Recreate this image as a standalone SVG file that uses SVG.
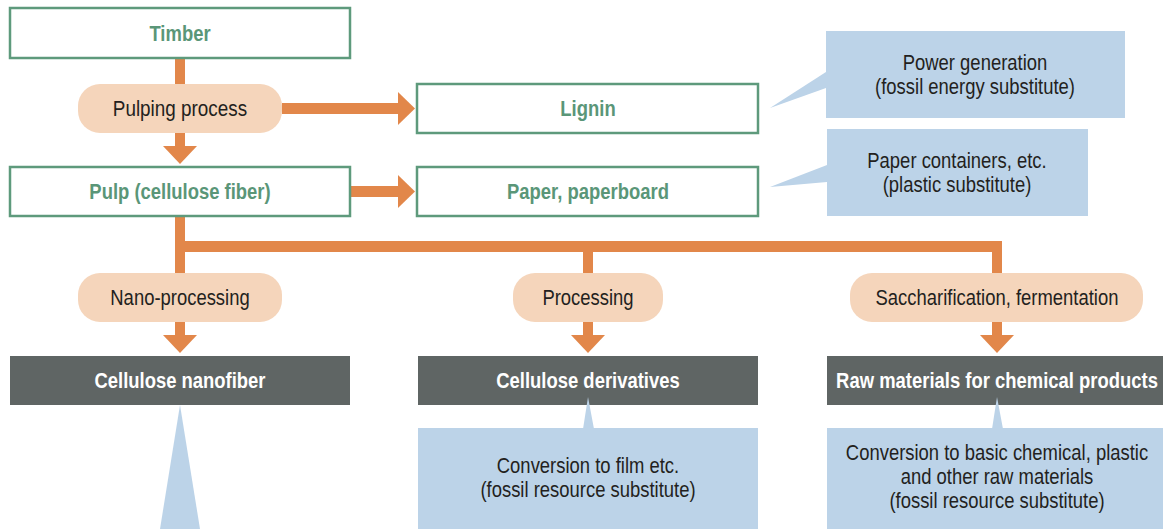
<svg xmlns="http://www.w3.org/2000/svg" width="1163" height="529" viewBox="0 0 1163 529">
<style>
text{font-family:"Liberation Sans",Arial,sans-serif;font-size:22.5px;text-anchor:middle}
.gbox{fill:#fff;stroke:#5e9a7c;stroke-width:2.5}
.gt{fill:#5a9678;font-weight:bold}
.pill{fill:#f5d5bb}
.dt{fill:#231f20}
.dark{fill:#5f6564}
.wt{fill:#fff;font-weight:bold}
.blue{fill:#bcd3e8}
.or{fill:#e2874a}
</style>
<g id="connectors">
<rect class="or" x="175" y="58" width="10" height="26"/>
<rect class="or" x="175" y="133" width="10" height="14"/>
<polygon class="or" points="163,146 197,146 180,164"/>
<rect class="or" x="282" y="103" width="117" height="11"/>
<polygon class="or" points="398,92 415,108.5 398,125"/>
<rect class="or" x="350" y="186" width="49" height="11"/>
<polygon class="or" points="398,175 415,191.5 398,208"/>
<rect class="or" x="175" y="216" width="10" height="57"/>
<rect class="or" x="175" y="241" width="827" height="11"/>
<rect class="or" x="583" y="241" width="10" height="32"/>
<rect class="or" x="992" y="241" width="10" height="32"/>
<rect class="or" x="175" y="322" width="10" height="14"/>
<polygon class="or" points="163,335 197,335 180,353"/>
<rect class="or" x="583" y="322" width="10" height="14"/>
<polygon class="or" points="571,335 605,335 588,353"/>
<rect class="or" x="992" y="322" width="10" height="14"/>
<polygon class="or" points="980,335 1014,335 997,353"/>
</g>
<g id="timber"><rect class="gbox" x="10" y="8" width="340" height="50"/><text class="gt" transform="translate(180,41) scale(0.82,1)">Timber</text></g>
<g id="pulping"><rect class="pill" x="78" y="84" width="204" height="49" rx="22"/><text class="dt" transform="translate(180,116) scale(0.84,1)">Pulping process</text></g>
<g id="lignin"><rect class="gbox" x="417" y="84" width="341" height="49"/><text class="gt" transform="translate(588,116) scale(0.82,1)">Lignin</text></g>
<g id="pulp"><rect class="gbox" x="10" y="167" width="340" height="49"/><text class="gt" transform="translate(180,199) scale(0.82,1)">Pulp (cellulose fiber)</text></g>
<g id="paper"><rect class="gbox" x="417" y="167" width="341" height="49"/><text class="gt" transform="translate(588,199) scale(0.82,1)">Paper, paperboard</text></g>
<g id="power"><polygon class="blue" points="826,72 826,88 770,108"/><rect class="blue" x="826" y="31" width="299" height="87"/><text class="dt" transform="translate(975,70) scale(0.82,1)">Power generation</text><text class="dt" transform="translate(975,94) scale(0.82,1)">(fossil energy substitute)</text></g>
<g id="containers"><polygon class="blue" points="827,165 827,182 770,187"/><rect class="blue" x="827" y="129" width="261" height="87"/><text class="dt" transform="translate(957,168) scale(0.82,1)">Paper containers, etc.</text><text class="dt" transform="translate(957,192) scale(0.82,1)">(plastic substitute)</text></g>
<g id="nanoproc"><rect class="pill" x="78" y="273" width="204" height="49" rx="22"/><text class="dt" transform="translate(180,305) scale(0.82,1)">Nano-processing</text></g>
<g id="processing"><rect class="pill" x="513" y="273" width="150" height="49" rx="22"/><text class="dt" transform="translate(588,305) scale(0.82,1)">Processing</text></g>
<g id="sacch"><rect class="pill" x="850" y="273" width="293" height="49" rx="22"/><text class="dt" transform="translate(997,305) scale(0.82,1)">Saccharification, fermentation</text></g>
<g id="cnf"><rect class="dark" x="10" y="356" width="340" height="49"/><text class="wt" transform="translate(180,388) scale(0.82,1)">Cellulose nanofiber</text><polygon class="blue" points="180,405 200,529 160,529"/></g>
<g id="deriv"><rect class="dark" x="418" y="356" width="340" height="49"/><text class="wt" transform="translate(588,388) scale(0.82,1)">Cellulose derivatives</text></g>
<g id="raw"><rect class="dark" x="827" y="356" width="336" height="49"/><text class="wt" transform="translate(997,388) scale(0.82,1)">Raw materials for chemical products</text></g>
<g id="film"><rect class="blue" x="418" y="428" width="340" height="101"/><polygon class="blue" points="583,429 594,429 588,397"/><text class="dt" transform="translate(588,473) scale(0.82,1)">Conversion to film etc.</text><text class="dt" transform="translate(588,497) scale(0.82,1)">(fossil resource substitute)</text></g>
<g id="chem"><rect class="blue" x="827" y="428" width="336" height="101"/><polygon class="blue" points="992,429 1003,429 997,397"/><text class="dt" transform="translate(997,460) scale(0.82,1)">Conversion to basic chemical, plastic</text><text class="dt" transform="translate(997,484) scale(0.82,1)">and other raw materials</text><text class="dt" transform="translate(997,508) scale(0.82,1)">(fossil resource substitute)</text></g>
</svg>
